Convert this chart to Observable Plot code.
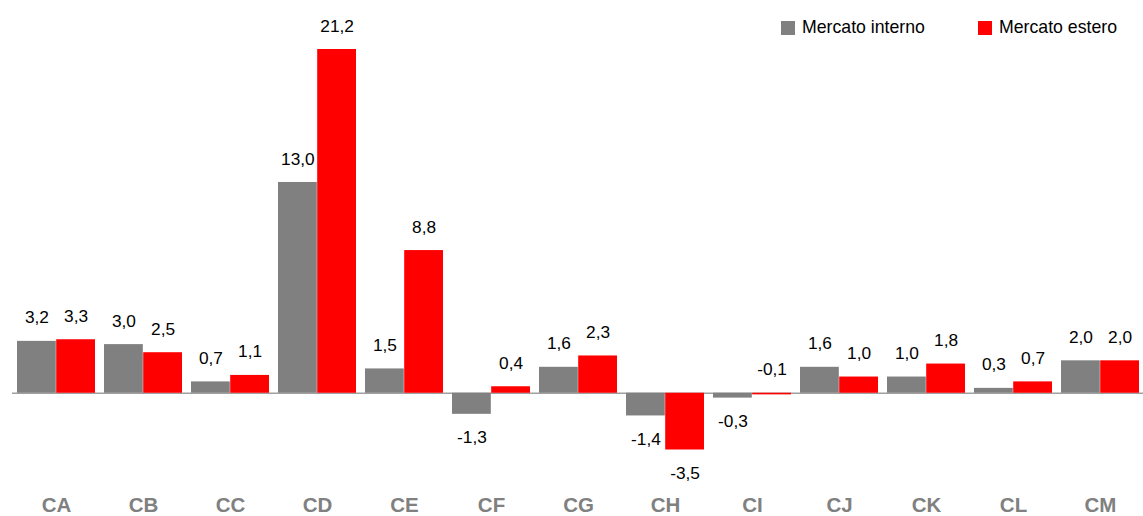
<!DOCTYPE html>
<html>
<head>
<meta charset="utf-8">
<script src="https://cdn.jsdelivr.net/npm/d3@7"></script>
<script src="https://cdn.jsdelivr.net/npm/@observablehq/plot@0.6"></script>
<style>
  body { margin: 0; background: #fff; }
  #wrap { position: relative; width: 1143px; height: 516px; }
  .leg { position: absolute; top: 17px; font-family: "Liberation Sans", Arial, sans-serif; font-size: 17.7px; color: #000; display: flex; align-items: center; }
  .sw { display: inline-block; width: 14px; height: 14px; margin-right: 7px; }
</style>
</head>
<body>
<div id="wrap">
  <div class="leg" style="left:781px"><span class="sw" style="background:#808080"></span>Mercato interno</div>
  <div class="leg" style="left:978px"><span class="sw" style="background:#ff0000"></span>Mercato estero</div>
</div>
<script>
const categories = ["CA","CB","CC","CD","CE","CF","CG","CH","CI","CJ","CK","CL","CM"];
const interno = [3.2, 3.0, 0.7, 13.0, 1.5, -1.3, 1.6, -1.4, -0.3, 1.6, 1.0, 0.3, 2.0];
const estero  = [3.3, 2.5, 1.1, 21.2, 8.8, 0.4, 2.3, -3.5, -0.1, 1.0, 1.8, 0.7, 2.0];
const seriesNames = ["Mercato interno", "Mercato estero"];
const seriesColors = ["#808080", "#ff0000"];

const data = categories.flatMap((c, i) => [
  {cat: c, series: seriesNames[0], value: interno[i]},
  {cat: c, series: seriesNames[1], value: estero[i]}
]);

const xr = [8, 1149];
const pad = 0.1;
const step = (xr[1] - xr[0]) / (categories.length - pad + 2 * pad);
const bw = step * (1 - pad);
const half = bw / 2;

const fmt = v => v.toFixed(1).replace(".", ",");
const above = d => d.value > -0.2;
const labelFont = "Liberation Sans, Arial, sans-serif";

const marks = [];
seriesNames.forEach((s, k) => {
  const sub = data.filter(d => d.series === s);
  const off = k === 0 ? -bw / 4 : bw / 4;
  marks.push(Plot.barY(sub, {
    x: "cat", y: "value", fill: seriesColors[k],
    insetLeft: k === 0 ? 0 : half, insetRight: k === 0 ? half : 0
  }));
  marks.push(Plot.text(sub.filter(above), {
    x: "cat", y: d => Math.max(d.value, 0), text: d => fmt(d.value),
    dx: off, dy: -23.5, fontSize: 17.3, fill: "#000", fontFamily: labelFont
  }));
  marks.push(Plot.text(sub.filter(d => !above(d)), {
    x: "cat", y: "value", text: d => fmt(d.value),
    dx: off, dy: 23.5, fontSize: 17.3, fill: "#000", fontFamily: labelFont
  }));
});
marks.unshift(Plot.ruleY([0], {stroke: "#a0a0a0", strokeWidth: 1.6}));
marks.push(Plot.axisX({
  tickSize: 0, tickPadding: 47.5, fontSize: 20.5, fontWeight: "bold",
  fill: "#808080", fontFamily: "Liberation Sans Narrow, Arial Narrow, Liberation Sans, sans-serif"
}));

const chart = Plot.plot({
  width: 1143,
  height: 516,
  marginLeft: 12,
  marginRight: 0,
  marginTop: 49,
  marginBottom: 66.5,
  x: {domain: categories, range: xr, padding: pad, label: null},
  y: {domain: [-3.5, 21.2], axis: null},
  style: {fontFamily: labelFont, background: "#fff", overflow: "visible"},
  marks
});
document.getElementById("wrap").prepend(chart);
</script>
</body>
</html>
